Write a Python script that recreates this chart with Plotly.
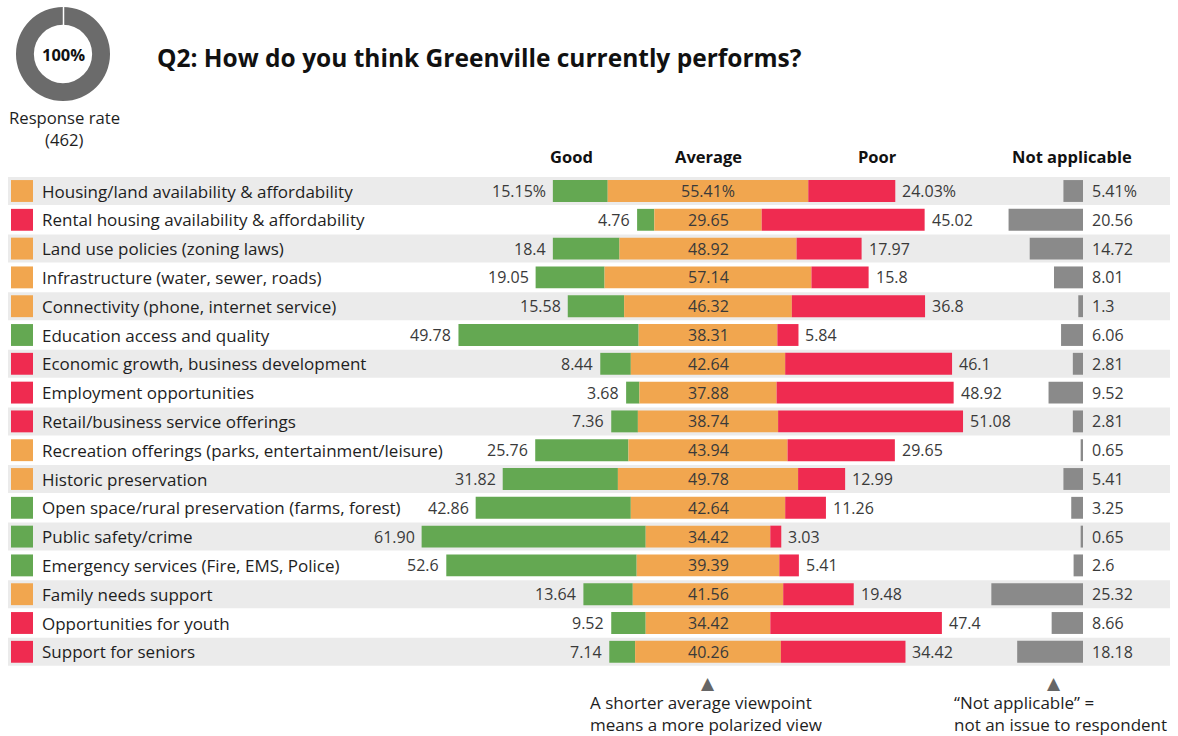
import plotly.graph_objects as go

# ---------------- data ----------------
ISSUES = [
    "Housing/land availability & affordability",
    "Rental housing availability & affordability",
    "Land use policies (zoning laws)",
    "Infrastructure (water, sewer, roads)",
    "Connectivity (phone, internet service)",
    "Education access and quality",
    "Economic growth, business development",
    "Employment opportunities",
    "Retail/business service offerings",
    "Recreation offerings (parks, entertainment/leisure)",
    "Historic preservation",
    "Open space/rural preservation (farms, forest)",
    "Public safety/crime",
    "Emergency services (Fire, EMS, Police)",
    "Family needs support",
    "Opportunities for youth",
    "Support for seniors",
]
GOOD = [15.15, 4.76, 18.4, 19.05, 15.58, 49.78, 8.44, 3.68, 7.36, 25.76, 31.82, 42.86, 61.90, 52.6, 13.64, 9.52, 7.14]
AVERAGE = [55.41, 29.65, 48.92, 57.14, 46.32, 38.31, 42.64, 37.88, 38.74, 43.94, 49.78, 42.64, 34.42, 39.39, 41.56, 34.42, 40.26]
POOR = [24.03, 45.02, 17.97, 15.8, 36.8, 5.84, 46.1, 48.92, 51.08, 29.65, 12.99, 11.26, 3.03, 5.41, 19.48, 47.4, 34.42]
NOT_APPLICABLE = [5.41, 20.56, 14.72, 8.01, 1.3, 6.06, 2.81, 9.52, 2.81, 0.65, 5.41, 3.25, 0.65, 2.6, 25.32, 8.66, 18.18]
# overall verdict marker shown in the square beside each issue
VERDICT = ["Average", "Poor", "Average", "Average", "Average", "Good", "Poor", "Poor", "Poor",
           "Average", "Average", "Good", "Good", "Good", "Average", "Poor", "Poor"]
COLUMN_HEADERS = ["Good", "Average", "Poor", "Not applicable"]
RESPONSE_RATE = 100
RESPONSES = 462

# ---------------- style ----------------
GREEN = "#64A852"
ORANGE = "#F1A64F"
RED = "#EF2B50"
GRAY = "#8A8A8A"
BAND = "#EBEBEB"
NUM_COLOR = "#3A3A3A"
TXT = "#1E1E1E"
FONT = "Open Sans"
VERDICT_COLOR = {"Good": GREEN, "Average": ORANGE, "Poor": RED}

W, H = 1178, 736
CX = 708.0          # pixel of the center of the "average" bars
SCALE = 3.62        # pixels per percentage point
ROW0 = 191.0        # pixel of first row center
PITCH = 28.8
NA_RIGHT = (1083 - CX) / SCALE
BAR_W = 0.76


def px(x):
    return x / W


def py(y):
    return 1 - y / H


def fmt(v, i):
    s = f"{v:.2f}".rstrip("0").rstrip(".")
    if v == 61.90:
        s = "61.90"
    if i == 0:
        s += "%"
    return s


n = len(ISSUES)
rows = list(range(n))

good_base = [-a / 2 - g for g, a in zip(GOOD, AVERAGE)]
avg_base = [-a / 2 for a in AVERAGE]
poor_base = [a / 2 for a in AVERAGE]
na_base = [NA_RIGHT - v for v in NOT_APPLICABLE]

fig = go.Figure()
for vals, base, col in [
    (GOOD, good_base, GREEN),
    (AVERAGE, avg_base, ORANGE),
    (POOR, poor_base, RED),
    (NOT_APPLICABLE, na_base, GRAY),
]:
    fig.add_trace(go.Bar(
        y=rows, x=vals, base=base, orientation="h", width=BAR_W,
        marker=dict(color=col, line=dict(width=0)),
        showlegend=False, hoverinfo="skip",
    ))

# donut
fig.add_trace(go.Pie(
    values=[RESPONSE_RATE], hole=0.62, sort=False,
    marker=dict(colors=["#6B6B6B"], line=dict(width=0)),
    textinfo="none", showlegend=False, hoverinfo="skip",
    domain=dict(x=[px(16), px(110)], y=[py(101), py(7)]),
))

shapes = []
annotations = []

for i in rows:
    if i % 2 == 0:
        shapes.append(dict(type="rect", xref="paper", yref="y",
                           x0=px(8), x1=px(1170), y0=i - 0.486, y1=i + 0.486,
                           fillcolor=BAND, line=dict(width=0), layer="below"))
    shapes.append(dict(type="rect", xref="paper", yref="y",
                       x0=px(11), x1=px(33), y0=i - 0.38, y1=i + 0.38,
                       fillcolor=VERDICT_COLOR[VERDICT[i]], line=dict(width=0)))
    annotations.append(dict(xref="paper", yref="y", x=px(39.5), y=i, text=ISSUES[i],
                            xanchor="left", yanchor="middle", showarrow=False,
                            font=dict(size=17, color=TXT, family=FONT)))
    annotations.append(dict(xref="x", yref="y", x=good_base[i], y=i, text=fmt(GOOD[i], i),
                            xanchor="right", yanchor="middle", showarrow=False, xshift=-5,
                            font=dict(size=16, color=NUM_COLOR, family=FONT)))
    annotations.append(dict(xref="x", yref="y", x=0, y=i, text=fmt(AVERAGE[i], i),
                            xanchor="center", yanchor="middle", showarrow=False,
                            font=dict(size=16, color=NUM_COLOR, family=FONT)))
    annotations.append(dict(xref="x", yref="y", x=poor_base[i] + POOR[i], y=i, text=fmt(POOR[i], i),
                            xanchor="left", yanchor="middle", showarrow=False, xshift=5,
                            font=dict(size=16, color=NUM_COLOR, family=FONT)))
    annotations.append(dict(xref="x", yref="y", x=NA_RIGHT, y=i, text=fmt(NOT_APPLICABLE[i], i),
                            xanchor="left", yanchor="middle", showarrow=False, xshift=7,
                            font=dict(size=16, color=NUM_COLOR, family=FONT)))

# column headers
for txt, x in zip(COLUMN_HEADERS, [571, 708, 877, 1072]):
    annotations.append(dict(xref="paper", yref="paper", x=px(x), y=py(157), text=f"<b>{txt}</b>",
                            xanchor="center", yanchor="middle", showarrow=False,
                            font=dict(size=16.5, color="#111", family=FONT)))

# title
annotations.append(dict(xref="paper", yref="paper", x=px(155), y=py(58),
                        text="<b>Q2: How do you think Greenville currently performs?</b>",
                        xanchor="left", yanchor="middle", showarrow=False,
                        font=dict(size=24.5, color="#111", family=FONT)))

# donut texts
annotations.append(dict(xref="paper", yref="paper", x=px(63), y=py(54), text=f"<b>{RESPONSE_RATE}%</b>",
                        xanchor="center", yanchor="middle", showarrow=False,
                        font=dict(size=16.5, color="#111", family=FONT)))
annotations.append(dict(xref="paper", yref="paper", x=px(64), y=py(117), text="Response rate",
                        xanchor="center", yanchor="middle", showarrow=False,
                        font=dict(size=16.7, color=TXT, family=FONT)))
annotations.append(dict(xref="paper", yref="paper", x=px(64), y=py(139), text=f"({RESPONSES})",
                        xanchor="center", yanchor="middle", showarrow=False,
                        font=dict(size=16.7, color=TXT, family=FONT)))
shapes.append(dict(type="line", xref="paper", yref="paper", x0=px(63.5), x1=px(63.5),
                   y0=py(6), y1=py(26), line=dict(color="white", width=1.5)))

# footnotes
for tx, ax, lines in [
    (708, 588, ["A shorter average viewpoint", "means a more polarized view"]),
    (1054, 952, ["\u201cNot applicable\u201d =", "not an issue to respondent"]),
]:
    annotations.append(dict(xref="paper", yref="paper", x=px(tx), y=py(683), text="\u25B2",
                            xanchor="center", yanchor="middle", showarrow=False,
                            font=dict(size=17, color="#666", family="DejaVu Sans")))
    annotations.append(dict(xref="paper", yref="paper", x=px(ax), y=py(702), text=lines[0],
                            xanchor="left", yanchor="middle", showarrow=False,
                            font=dict(size=17, color=TXT, family=FONT)))
    annotations.append(dict(xref="paper", yref="paper", x=px(ax), y=py(724), text=lines[1],
                            xanchor="left", yanchor="middle", showarrow=False,
                            font=dict(size=17, color=TXT, family=FONT)))

fig.update_layout(
    width=W, height=H,
    margin=dict(l=0, r=0, t=0, b=0),
    paper_bgcolor="white", plot_bgcolor="white",
    barmode="overlay",
    xaxis=dict(range=[-CX / SCALE, (W - CX) / SCALE], visible=False, fixedrange=True),
    yaxis=dict(range=[(H - ROW0) / PITCH, -ROW0 / PITCH], visible=False, fixedrange=True),
    shapes=shapes, annotations=annotations,
    font=dict(family=FONT),
)

fig.write_html("out.html")
